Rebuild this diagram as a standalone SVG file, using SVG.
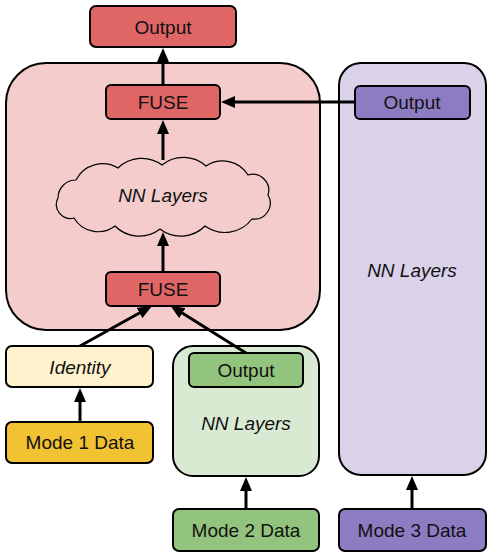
<svg xmlns="http://www.w3.org/2000/svg" width="498" height="559" viewBox="0 0 498 559">
<defs>
<marker id="ah" markerUnits="userSpaceOnUse" markerWidth="14" markerHeight="12" refX="4" refY="6" orient="auto">
<path d="M0,0 L14,6 L0,12 z" fill="#000"/>
</marker>
<style>
.b{stroke:#000;stroke-width:2}
.t{font-family:"Liberation Sans",Arial,sans-serif;font-size:19px;fill:#111;text-anchor:middle}
.i{font-style:italic}
.c{fill:none;stroke:#000;stroke-width:3;marker-end:url(#ah)}
</style>
</defs>
<g id="pink-container"><rect class="b" x="6" y="63" width="314" height="267" rx="40" fill="#f4cccc"/></g>
<g id="purple-container"><rect class="b" x="339" y="63" width="147" height="412" rx="22" fill="#d9d2e9"/><text class="t i" x="412" y="277">NN Layers</text></g>
<g id="green-container"><rect class="b" x="173" y="346" width="146" height="130" rx="20" fill="#d9ead3"/><text class="t i" x="246" y="430">NN Layers</text></g>
<g id="output-top"><rect class="b" x="90" y="6" width="146" height="41" rx="6" fill="#e06666"/><text class="t" x="163" y="34">Output</text></g>
<g id="fuse-top"><rect class="b" x="106" y="85" width="114" height="34" rx="5" fill="#e06666"/><text class="t" x="163" y="109">FUSE</text></g>
<g id="cloud"><path fill="#f4cccc" stroke="#000" stroke-width="1.2" d="M58,198 A18,18 0 0 1 76,180 A30,30 0 0 1 118,168 A34,34 0 0 1 162,165 A34,34 0 0 1 206,166 A30,30 0 0 1 248,175 A16,16 0 0 1 268,195 A16,16 0 0 1 252,219 A34,34 0 0 1 205,226 A34,34 0 0 1 160,229 A34,34 0 0 1 115,226 A28,28 0 0 1 74,218 A14,14 0 0 1 58,198 Z"/><text class="t i" x="163" y="202">NN Layers</text></g>
<g id="fuse-bottom"><rect class="b" x="106" y="272" width="114" height="34" rx="5" fill="#e06666"/><text class="t" x="163" y="296">FUSE</text></g>
<g id="identity"><rect class="b" x="6" y="346" width="147" height="41" rx="6" fill="#fff2cc"/><text class="t i" x="80" y="374">Identity</text></g>
<g id="mode1"><rect class="b" x="6" y="422" width="147" height="41" rx="6" fill="#f1c232"/><text class="t" x="80" y="449">Mode 1 Data</text></g>
<g id="green-output"><rect class="b" x="189" y="353" width="114" height="34" rx="5" fill="#93c47d"/><text class="t" x="246" y="377">Output</text></g>
<g id="mode2"><rect class="b" x="173" y="509" width="146" height="42" rx="6" fill="#93c47d"/><text class="t" x="246" y="537">Mode 2 Data</text></g>
<g id="purple-output"><rect class="b" x="355" y="86" width="115" height="33" rx="5" fill="#8e7cc3"/><text class="t" x="412" y="109">Output</text></g>
<g id="mode3"><rect class="b" x="339" y="509" width="147" height="42" rx="6" fill="#8e7cc3"/><text class="t" x="412" y="537">Mode 3 Data</text></g>
<g id="connectors">
<path class="c" d="M163,85 L163,58"/>
<path class="c" d="M163,160 L163,130"/>
<path class="c" d="M163,272 L163,242"/>
<path class="c" d="M80,346 L143,311"/>
<path class="c" d="M246,353 L179,311"/>
<path class="c" d="M355,102 L231,102"/>
<path class="c" d="M80,422 L80,398"/>
<path class="c" d="M246,509 L246,487"/>
<path class="c" d="M412,509 L412,486"/>
</g>
</svg>
